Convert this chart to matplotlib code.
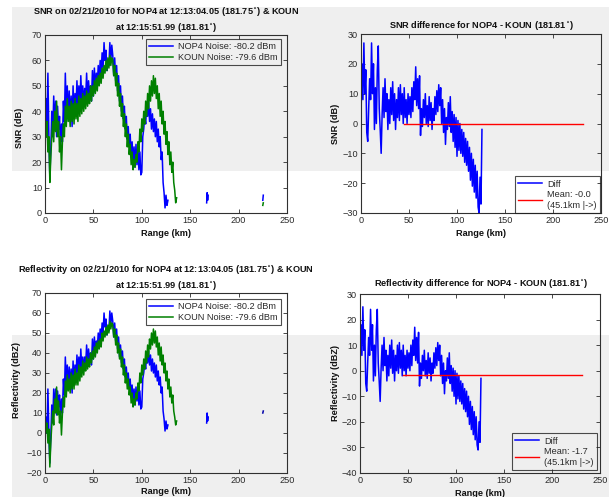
import numpy as np
import matplotlib
matplotlib.use("Agg")
import matplotlib.pyplot as plt
from matplotlib.patches import Rectangle

plt.rcParams['font.family'] = ['Liberation Sans', 'DejaVu Sans']

# ---------------- data ----------------
snr_nop4 = [38, 45, 36, 55, 30, 14, 25, 40, 30, 46, 34, 44, 30, 42, 33, 38, 26, 35, 28, 44,
            36, 55, 40, 50, 37, 48, 36, 46, 34, 50, 38, 47, 40, 52, 42, 50, 41, 54, 44, 50,
            42, 49, 45, 55, 44, 52, 46, 50, 44, 56, 46, 57, 48, 55, 50, 58, 52, 60, 55, 63,
            57, 67, 60, 64, 56, 60, 58, 67, 60, 66, 62, 54, 61, 52, 58, 48, 54, 44, 50, 40,
            46, 37, 42, 33, 38, 29, 34, 26, 31, 22, 28, 19, 26, 18, 27, 19, 26, 17, 24, 15,
            16, 30, 33, 38, 35, 42, 38, 44, 36, 41, 33, 39, 32, 37, 30, 36, 28, 33, 26, 30,
            21, 24, 12, 8, 2, 7, 3, 5]
snr_koun = [38, 30, 36, 24, 30, 12, 22, 30, 36, 28, 40, 32, 44, 30, 36, 24, 30, 17, 28, 35,
            30, 42, 34, 45, 36, 42, 34, 44, 36, 43, 35, 45, 37, 43, 36, 46, 38, 45, 39, 47,
            40, 46, 41, 48, 42, 47, 43, 50, 44, 50, 46, 52, 47, 53, 48, 54, 50, 55, 51, 57,
            53, 58, 55, 60, 56, 61, 57, 62, 58, 61, 60, 54, 58, 50, 55, 46, 51, 42, 47, 38,
            43, 34, 39, 30, 35, 26, 31, 23, 27, 19, 24, 17, 21, 18, 23, 20, 28, 24, 33, 28,
            37, 32, 40, 35, 44, 38, 47, 41, 50, 44, 52, 46, 54, 47, 53, 45, 50, 41, 47, 38,
            44, 35, 40, 31, 36, 27, 32, 23, 28, 19, 24, 16, 20, 12, 9, 4, 6]
snr_diff = [2, 20, 8, 27, 10, 18, -3, -6, 5, 15, 8, 27, 10, 20, -2, 12, 0, 18, 26, 5,
            -2, -10, 3, 12, 2, 15, 4, 10, -2, 8, 0, 12, 3, 14, 1, 10, -2, 8, 2, 12,
            1, 13, 3, 10, 0, 12, 2, 8, 0, 10, 3, 9, 2, 12, 4, 14, 8, 19, 6, 15,
            5, 16, -4, 5, -1, 8, 2, 10, 0, 6, -1, 9, 1, 7, -2, 5, 1, 9, 3, 11,
            4, 13, 6, 12, 0, 8, -3, 5, -7, 2, -2, 7, -1, 9, -3, 4, -6, 3, -8, 2,
            -11, 1, -9, 0, -10, -2, -11, -3, -13, -5, -14, -6, -16, -8, -19, -10, -21, -12, -23, -14,
            -25, -16, -28, -30, -18, -27, -2]
refl_nop4 = [5, 8, 0, 22, -1, -15, -2, 14, 5, 22, 11, 22, 9, 21, 13, 19, 7, 17, 10, 27,
             19, 38, 24, 34, 22, 33, 22, 32, 20, 36, 25, 34, 27, 39, 30, 38, 29, 42, 32, 38,
             31, 38, 34, 44, 34, 42, 36, 40, 34, 47, 37, 48, 39, 46, 42, 50, 44, 52, 47, 55,
             50, 60, 53, 57, 49, 53, 51, 61, 54, 60, 56, 48, 55, 46, 52, 42, 48, 38, 44, 35,
             41, 32, 37, 28, 33, 25, 30, 22, 27, 18, 24, 15, 22, 14, 23, 16, 23, 14, 21, 12,
             13, 27, 30, 35, 32, 39, 35, 41, 34, 39, 31, 37, 30, 35, 28, 34, 26, 31, 24, 28,
             20, 23, 11, 7, 1, 6, 2, 4]
refl_koun = [10, 0, 5, -5, 2, -17, -5, 4, 11, 4, 17, 10, 23, 9, 16, 5, 11, -1, 10, 18,
             13, 26, 18, 29, 21, 27, 20, 30, 22, 29, 22, 32, 24, 30, 24, 34, 26, 33, 28, 36,
             29, 35, 31, 38, 32, 37, 33, 40, 35, 41, 37, 43, 38, 45, 40, 46, 42, 47, 43, 50,
             46, 51, 48, 53, 49, 54, 50, 56, 52, 55, 54, 48, 52, 44, 49, 40, 45, 37, 42, 33,
             38, 29, 34, 25, 30, 22, 27, 19, 23, 15, 20, 13, 17, 14, 20, 17, 25, 21, 30, 25,
             34, 29, 37, 32, 41, 35, 44, 38, 47, 42, 50, 44, 52, 45, 51, 43, 48, 39, 45, 36,
             43, 34, 39, 30, 35, 26, 31, 22, 27, 18, 23, 15, 19, 11, 8, 4, 6]
refl_diff = [0, 18, 6, 25, 8, 16, -5, -8, 3, 13, 6, 24, 8, 18, -4, 10, -2, 16, 24, 3,
             -4, -12, 1, 10, 0, 13, 2, 8, -4, 6, -2, 10, 1, 12, -1, 8, -4, 6, 0, 10,
             -1, 11, 1, 8, -2, 10, 0, 6, -2, 8, 1, 7, 0, 10, 2, 12, 6, 17, 4, 13,
             3, 15, -6, 3, -3, 6, 0, 8, -2, 4, -3, 7, -1, 5, -4, 3, -1, 7, 1, 9,
             2, 11, 4, 10, -2, 6, -5, 3, -9, 0, -4, 5, -3, 7, -5, 2, -8, 1, -10, 0,
             -13, -1, -11, -2, -12, -4, -13, -5, -15, -7, -16, -8, -18, -10, -21, -12, -23, -14, -25, -16,
             -27, -18, -29, -31, -20, -28, -3]

# isolated far-range returns
speck1_rng = [167, 167.5, 168, 168.5]
speck2_rng = [225, 225.5]
snr_nop4_speck1 = [4, 8, 5, 7]
snr_nop4_speck2 = [5, 7]
snr_koun_speck2 = [3, 4]
refl_nop4_speck1 = [5, 10, 6, 8]
refl_nop4_speck2 = [10, 11]

mean_start_km, mean_end_km = 45.1, 231.0
snr_mean = -0.04
refl_mean = -1.7

title_l1 = "SNR on 02/21/2010 for NOP4 at 12:13:04.05 (181.75$^{\\circ}$) & KOUN"
title_l2 = "at 12:15:51.99 (181.81$^{\\circ}$)"
title_r1 = "SNR difference for NOP4 - KOUN (181.81$^{\\circ}$)"
title_l3 = "Reflectivity on 02/21/2010 for NOP4 at 12:13:04.05 (181.75$^{\\circ}$) & KOUN"
title_r2 = "Reflectivity difference for NOP4 - KOUN (181.81$^{\\circ}$)"
lab_nop4 = "NOP4 Noise: -80.2 dBm"
lab_koun = "KOUN Noise: -79.6 dBm"

# ---------------- figure ----------------
W, H = 609, 497
fig = plt.figure(figsize=(W / 100, H / 100), dpi=100)
fig.patch.set_facecolor('white')

gray = '#efefef'
fig.patches.append(Rectangle((12 / W, 1 - 171 / H), 1 - 12 / W, (171 - 7) / H,
                             transform=fig.transFigure, facecolor=gray, edgecolor='none', zorder=-5))
fig.patches.append(Rectangle((12 / W, 0), 1 - 12 / W, 1 - 335 / H,
                             transform=fig.transFigure, facecolor=gray, edgecolor='none', zorder=-5))


def px_axes(l, t, r, b):
    return fig.add_axes([l / W, 1 - b / H, (r - l) / W, (b - t) / H])


ax1 = px_axes(45, 35, 287, 213)
ax2 = px_axes(361, 34, 601, 213)
ax3 = px_axes(45, 293, 287, 473)
ax4 = px_axes(360, 294, 600, 473)

FS = 6.6
tc = '#2a2a2a'


def style(ax, ylim, yticks):
    ax.set_facecolor('none')
    ax.set_xlim(0, 250)
    ax.set_ylim(*ylim)
    ax.set_xticks(range(0, 251, 50))
    ax.set_yticks(yticks)
    ax.tick_params(direction='in', length=3, width=0.6, top=True, right=True,
                   labelsize=FS, colors=tc, pad=2)
    for s in ax.spines.values():
        s.set_color('#303030')
        s.set_linewidth(0.8)


lw = 1.1
rng_n = np.arange(len(snr_nop4))
rng_k = np.arange(len(snr_koun))
rng_d = np.arange(len(snr_diff))

# SNR
ax1.plot(rng_n, snr_nop4, color='blue', lw=lw, label=lab_nop4)
ax1.plot(speck1_rng, snr_nop4_speck1, color='blue', lw=lw)
ax1.plot(speck2_rng, snr_nop4_speck2, color='blue', lw=lw)
ax1.plot(rng_k, snr_koun, color='green', lw=lw, label=lab_koun)
ax1.plot(speck2_rng, snr_koun_speck2, color='green', lw=lw)
style(ax1, (0, 70), range(0, 71, 10))

# SNR diff
ax2.plot(rng_d, snr_diff, color='blue', lw=lw, label='Diff')
ax2.plot([mean_start_km, mean_end_km], [snr_mean, snr_mean], color='red', lw=1.0,
         label='Mean: -0.0\n(45.1km |->)')
style(ax2, (-30, 30), range(-30, 31, 10))

# Reflectivity
ax3.plot(np.arange(len(refl_nop4)), refl_nop4, color='blue', lw=lw, label=lab_nop4)
ax3.plot(speck1_rng, refl_nop4_speck1, color='blue', lw=lw)
ax3.plot(speck2_rng, refl_nop4_speck2, color='#0000aa', lw=lw)
ax3.plot(np.arange(len(refl_koun)), refl_koun, color='green', lw=lw, label=lab_koun)
style(ax3, (-20, 70), range(-20, 71, 10))

# Reflectivity diff
ax4.plot(np.arange(len(refl_diff)), refl_diff, color='blue', lw=lw, label='Diff')
ax4.plot([mean_start_km, mean_end_km], [refl_mean, refl_mean], color='red', lw=1.0,
         label='Mean: -1.7\n(45.1km |->)')
style(ax4, (-40, 30), range(-40, 31, 10))

leg_kw = dict(fontsize=FS, frameon=True, fancybox=False, borderaxespad=0,
              handlelength=2.6, handletextpad=0.6, borderpad=0.35, labelspacing=0.2)


def legend(ax, loc, anchor):
    lg = ax.legend(loc=loc, bbox_to_anchor=anchor, **leg_kw)
    fr = lg.get_frame()
    fr.set_facecolor('none')
    fr.set_edgecolor('#202020')
    fr.set_linewidth(0.8)
    for t in lg.get_texts():
        t.set_color(tc)


legend(ax1, 'upper right', (0.975, 0.978))
legend(ax2, 'lower right', (0.996, 0.0))
legend(ax3, 'upper right', (0.975, 0.967))
legend(ax4, 'lower right', (0.9875, 0.017))


def ftext(x, y, s, **kw):
    fig.text(x / W, 1 - y / H, s, ha='center', va='center', fontsize=FS,
             fontweight='bold', color='#111111', **kw)


ftext(166, 12, title_l1)
ftext(166, 27, title_l2)
ftext(481, 26, title_r1)
ftext(166, 270, title_l3)
ftext(166, 285, title_l2)
ftext(481, 283, title_r2)

ftext(166, 234, "Range (km)")
ftext(481, 234, "Range (km)")
ftext(166, 492, "Range (km)")
ftext(480, 493, "Range (km)")

ftext(20, 128, "SNR (dB)", rotation=90)
ftext(335, 124, "SNR (dB)", rotation=90)
ftext(17, 380, "Reflectivity (dBZ)", rotation=90)
ftext(335, 383, "Reflectivity (dBZ)", rotation=90)

fig.savefig("out.png", dpi=100)
